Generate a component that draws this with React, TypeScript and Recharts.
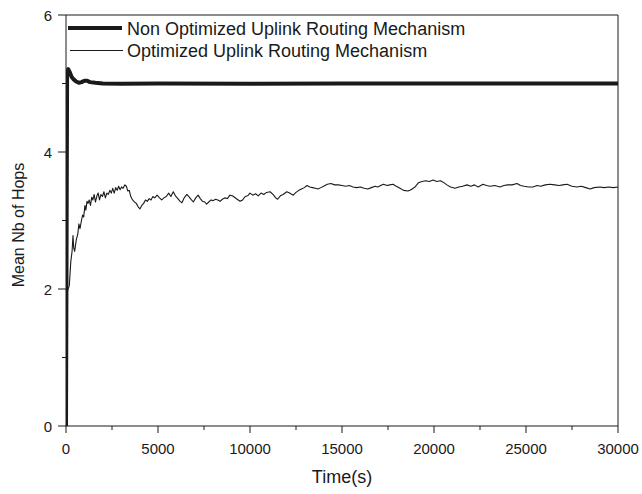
import React from "react";
import { LineChart, Line, XAxis, YAxis, ReferenceLine } from "recharts";

type Pt = { t: number; v: number };

const nonOptimized: Pt[] = [
  [0, 0], [60, 5.12], [120, 5.21], [200, 5.17], [300, 5.1], [420, 5.06], [550, 5.03], [700, 5.01],
  [850, 5.02], [1000, 5.04], [1150, 5.04], [1300, 5.02], [1600, 5.01], [2000, 5.0], [3000, 4.995],
  [5000, 5.0], [10000, 4.995], [15000, 5.0], [20000, 5.0], [25000, 5.0], [30000, 5.0],
].map(([t, v]) => ({ t, v }));

const optimized: Pt[] = [
  [0, 0], [50, 1.95], [180, 2.05], [260, 2.4], [330, 2.55], [380, 2.78], [420, 2.6], [470, 2.55],
  [560, 2.72], [640, 2.8], [700, 2.95], [760, 2.88], [840, 3.0], [900, 3.08], [960, 3.05], [1030, 3.22],
  [1080, 3.15], [1140, 3.28], [1200, 3.25], [1260, 3.3], [1330, 3.22], [1400, 3.34], [1460, 3.3],
  [1530, 3.38], [1600, 3.27], [1680, 3.36], [1750, 3.4], [1820, 3.3], [1900, 3.38], [1980, 3.35],
  [2060, 3.42], [2140, 3.33], [2220, 3.4], [2300, 3.38], [2380, 3.44], [2460, 3.4], [2540, 3.47],
  [2620, 3.4], [2700, 3.48], [2780, 3.44], [2860, 3.5], [2940, 3.45], [3020, 3.49], [3100, 3.47],
  [3200, 3.52], [3280, 3.5], [3360, 3.43], [3440, 3.44], [3520, 3.35], [3620, 3.3], [3720, 3.27],
  [3820, 3.25], [3920, 3.2], [4020, 3.17], [4120, 3.22], [4220, 3.25], [4320, 3.3], [4420, 3.28],
  [4520, 3.32], [4620, 3.3], [4720, 3.35], [4820, 3.33], [4950, 3.37], [5080, 3.33], [5200, 3.3],
  [5320, 3.33], [5450, 3.35], [5580, 3.4], [5700, 3.35], [5830, 3.42], [5950, 3.36], [6080, 3.32],
  [6200, 3.28], [6300, 3.26], [6420, 3.33], [6570, 3.38], [6700, 3.34], [6820, 3.3], [6920, 3.27],
  [7050, 3.33], [7180, 3.37], [7300, 3.32], [7420, 3.28], [7540, 3.27], [7640, 3.24], [7760, 3.27],
  [7880, 3.3], [8000, 3.29], [8130, 3.31], [8250, 3.3], [8370, 3.28], [8500, 3.31], [8630, 3.33],
  [8770, 3.32], [8910, 3.37], [9040, 3.36], [9160, 3.34], [9300, 3.31], [9460, 3.28], [9600, 3.3],
  [9740, 3.35], [9870, 3.36], [10000, 3.4], [10150, 3.37], [10300, 3.39], [10450, 3.36], [10600, 3.4],
  [10750, 3.38], [10900, 3.41], [11090, 3.42], [11250, 3.38], [11400, 3.33], [11500, 3.31],
  [11650, 3.36], [11800, 3.38], [12000, 3.42], [12150, 3.4], [12350, 3.37], [12500, 3.41],
  [12650, 3.44], [12800, 3.46], [12950, 3.48], [13100, 3.51], [13250, 3.49], [13400, 3.48],
  [13550, 3.47], [13700, 3.46], [13850, 3.48], [14000, 3.5], [14200, 3.53], [14400, 3.54],
  [14600, 3.52], [14800, 3.52], [15000, 3.51], [15200, 3.5], [15400, 3.51], [15600, 3.49],
  [15800, 3.48], [16000, 3.49], [16200, 3.47], [16400, 3.46], [16600, 3.48], [16800, 3.5],
  [16950, 3.49], [17100, 3.51], [17250, 3.53], [17450, 3.51], [17600, 3.52], [17770, 3.53],
  [17950, 3.5], [18150, 3.47], [18350, 3.44], [18590, 3.43], [18750, 3.45], [18970, 3.49],
  [19150, 3.55], [19350, 3.57], [19550, 3.58], [19750, 3.57], [19950, 3.59], [20150, 3.57],
  [20350, 3.58], [20500, 3.56], [20700, 3.52], [20900, 3.49], [21140, 3.47], [21350, 3.49],
  [21550, 3.5], [21790, 3.52], [22000, 3.5], [22200, 3.52], [22400, 3.49], [22660, 3.53],
  [22850, 3.51], [23050, 3.5], [23300, 3.51], [23590, 3.49], [23800, 3.51], [24000, 3.52],
  [24250, 3.52], [24510, 3.54], [24700, 3.51], [24900, 3.5], [25150, 3.49], [25380, 3.49],
  [25600, 3.51], [25800, 3.5], [26050, 3.52], [26300, 3.53], [26550, 3.52], [26800, 3.51],
  [27000, 3.52], [27230, 3.53], [27500, 3.5], [27770, 3.49], [28000, 3.5], [28250, 3.48],
  [28480, 3.46], [28700, 3.48], [29020, 3.49], [29250, 3.48], [29500, 3.49], [29750, 3.48],
  [30000, 3.49],
].map(([t, v]) => ({ t, v }));

const xTicks = [0, 2500, 5000, 7500, 10000, 12500, 15000, 17500, 20000, 22500, 25000, 27500, 30000];
const xMajor = [0, 5000, 10000, 15000, 20000, 25000, 30000];
const yTicks = [0, 1, 2, 3, 4, 5, 6];
const yMajor = [0, 2, 4, 6];

const seriesNames = ["Non Optimized Uplink Routing Mechanism", "Optimized Uplink Routing Mechanism"];
const xTitle = "Time(s)";
const yTitle = "Mean Nb of Hops";

const INK = "#1a1a1a";
const FONT = "'Liberation Sans', Arial, sans-serif";

const XTick = (props: any) => {
  const { x, y, payload } = props;
  const major = xMajor.includes(payload.value);
  return (
    <g>
      <line x1={x} x2={x} y1={y} y2={y + (major ? 7 : 4)} stroke={INK} strokeWidth={1} />
      {major && (
        <text x={x} y={y + 28} textAnchor="middle" fontSize={15} fill={INK} fontFamily={FONT}>
          {payload.value}
        </text>
      )}
    </g>
  );
};

const YTick = (props: any) => {
  const { x, y, payload } = props;
  const major = yMajor.includes(payload.value);
  return (
    <g>
      <line x1={x - (major ? 8 : 4)} x2={x} y1={y} y2={y} stroke={INK} strokeWidth={1} />
      {major && (
        <text x={52} y={y + 5.5} textAnchor="end" fontSize={15} fill={INK} fontFamily={FONT}>
          {payload.value}
        </text>
      )}
    </g>
  );
};

export default function App() {
  return (
    <div style={{ position: "absolute", left: 0, top: 0, width: 642, height: 494, background: "#fff" }}>
      <LineChart width={642} height={494} margin={{ top: 15, right: 24, bottom: 28, left: 0 }}>
        <XAxis
          type="number"
          dataKey="t"
          domain={[0, 30000]}
          ticks={xTicks}
          interval={0}
          tickSize={0}
          tickMargin={0}
          tickLine={false}
          tick={<XTick />}
          height={40}
          axisLine={{ stroke: INK, strokeWidth: 1 }}
          allowDataOverflow
        />
        <YAxis
          type="number"
          domain={[0, 6]}
          ticks={yTicks}
          interval={0}
          tickSize={0}
          tickMargin={0}
          tickLine={false}
          tick={<YTick />}
          width={66}
          axisLine={{ stroke: INK, strokeWidth: 1 }}
          allowDataOverflow
        />
        <ReferenceLine y={6} stroke={INK} strokeWidth={1} />
        <ReferenceLine x={30000} stroke={INK} strokeWidth={1} />
        <Line
          data={optimized}
          dataKey="v"
          name={seriesNames[1]}
          stroke={INK}
          strokeWidth={1.1}
          dot={false}
          isAnimationActive={false}
          strokeLinejoin="round"
        />
        <Line
          data={nonOptimized}
          dataKey="v"
          name={seriesNames[0]}
          stroke={INK}
          strokeWidth={4}
          dot={false}
          isAnimationActive={false}
          strokeLinejoin="round"
        />
      </LineChart>
      <svg
        width={642}
        height={494}
        style={{ position: "absolute", left: 0, top: 0, pointerEvents: "none" }}
      >
        <line x1={68} x2={122} y1={28} y2={28} stroke={INK} strokeWidth={4} />
        <text x={127} y={35} fontSize={18} fill={INK} fontFamily={FONT}>
          {seriesNames[0]}
        </text>
        <line x1={70} x2={123} y1={50.5} y2={50.5} stroke={INK} strokeWidth={1} />
        <text x={127} y={57} fontSize={18} fill={INK} fontFamily={FONT}>
          {seriesNames[1]}
        </text>
        <text x={342} y={483} textAnchor="middle" fontSize={18} fill={INK} fontFamily={FONT}>
          {xTitle}
        </text>
        <text
          x={24}
          y={225}
          textAnchor="middle"
          fontSize={16}
          fill={INK}
          fontFamily={FONT}
          transform="rotate(-90 24 225)"
        >
          {yTitle}
        </text>
      </svg>
    </div>
  );
}
